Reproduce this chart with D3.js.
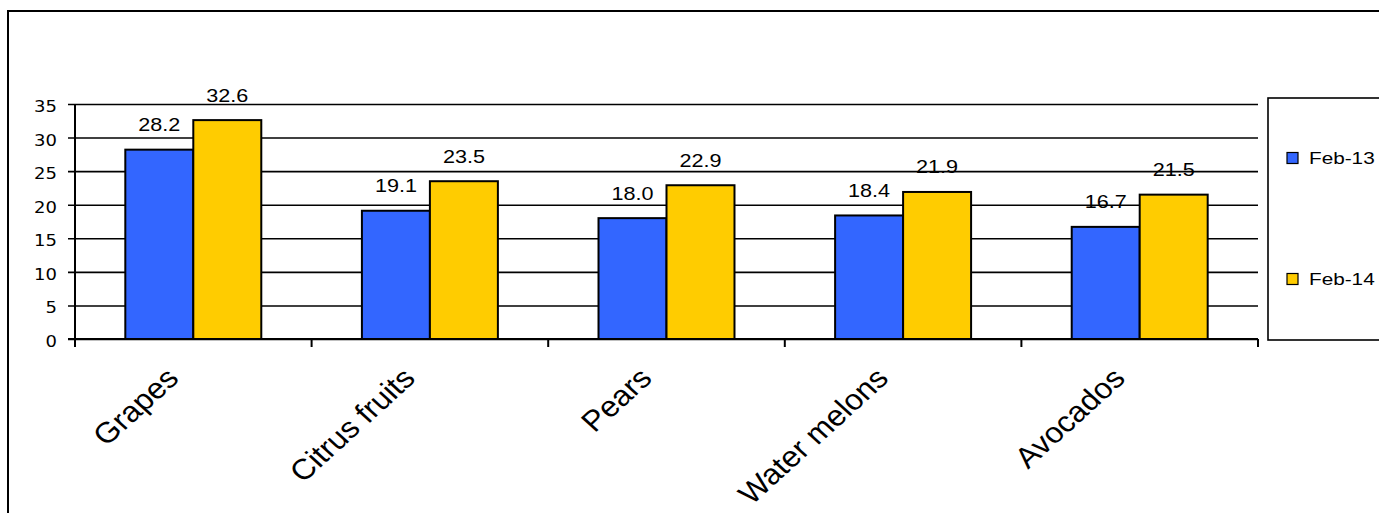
<!DOCTYPE html>
<html>
<head>
<meta charset="utf-8">
<script src="https://cdn.jsdelivr.net/npm/d3@7"></script>
<style>
  html, body { margin: 0; padding: 0; background: #fff; }
  svg { display: block; }
</style>
</head>
<body>
<svg id="chart" width="1379" height="513"></svg>
<script>
// Fruit quantities by month
const categories = ["Grapes", "Citrus fruits", "Pears", "Water melons", "Avocados"];
const seriesNames = ["Feb-13", "Feb-14"];
const feb13 = [28.2, 19.1, 18.0, 18.4, 16.7];
const feb14 = [32.6, 23.5, 22.9, 21.9, 21.5];
const yTicks = [0, 5, 10, 15, 20, 25, 30, 35];
const seriesColors = ["#3366FF", "#FFCC00"];

const seriesValues = [feb13, feb14];
const rows = categories.map((c, i) => ({
  category: c,
  values: seriesNames.map((s, j) => ({ series: s, value: seriesValues[j][i], color: seriesColors[j] }))
}));

const ARIAL = "'Liberation Sans', Arial, sans-serif";
const VERDANA = "'DejaVu Sans', Verdana, sans-serif";

const svg = d3.select("#chart");

// outer chart frame (runs past the right and bottom edges)
svg.append("rect")
  .attr("x", 8).attr("y", 11)
  .attr("width", 1400).attr("height", 520)
  .attr("fill", "#fff").attr("stroke", "#000").attr("stroke-width", 2);

const plot = { left: 75, right: 1258, top: 104, bottom: 339 };

const y = d3.scaleLinear().domain([0, 35]).range([plot.bottom, plot.top]);
const x0 = d3.scaleBand().domain(categories).range([plot.left, plot.right]).padding(0);
const x1 = d3.scaleBand().domain(seriesNames).range([0, x0.bandwidth()])
  .paddingInner(0).paddingOuter(0.74);

// horizontal gridlines with left ticks
const yAxis = d3.axisLeft(y).tickValues(yTicks).tickSize(-(plot.right - plot.left)).tickPadding(0).tickSizeOuter(0);
const gy = svg.append("g").attr("transform", `translate(${plot.left},0)`).call(yAxis);
gy.select(".domain").remove();
gy.selectAll(".tick line")
  .attr("x1", -7)
  .attr("stroke", "#000").attr("stroke-width", 1.6);
gy.selectAll(".tick text")
  .attr("x", null)
  .attr("transform", "translate(-18,0) scale(1.2,1)")
  .attr("font-family", VERDANA)
  .attr("font-size", 15).attr("fill", "#000")
  .attr("dy", "0.5em");

// bars
const groups = svg.append("g").selectAll("g")
  .data(rows).join("g")
  .attr("transform", d => `translate(${x0(d.category)},0)`);

groups.selectAll("rect")
  .data(d => d.values).join("rect")
  .attr("x", d => x1(d.series))
  .attr("y", d => y(d.value))
  .attr("width", x1.bandwidth())
  .attr("height", d => y(0) - y(d.value))
  .attr("fill", d => d.color)
  .attr("stroke", "#000").attr("stroke-width", 2);

// value labels
groups.selectAll("text")
  .data(d => d.values).join("text")
  .attr("transform", d => `translate(${x1(d.series) + x1.bandwidth() / 2},${y(d.value) - 18.5}) scale(1.2,1)`)
  .attr("text-anchor", "middle")
  .attr("font-family", ARIAL)
  .attr("font-size", 18).attr("fill", "#000")
  .text(d => d.value.toFixed(1));

// category axis
const xAxis = d3.axisBottom(x0).tickSize(0).tickFormat("");
const gx = svg.append("g").attr("transform", `translate(0,${plot.bottom})`).call(xAxis);
gx.select(".domain").attr("stroke", "#000").attr("stroke-width", 2)
  .attr("d", `M${plot.left - 7},0H${plot.right}`);
// boundary tick marks between categories
const boundaries = categories.map(c => x0(c)).concat([plot.right]);
gx.selectAll(".bound").data(boundaries).join("line")
  .attr("class", "bound")
  .attr("x1", d => d).attr("x2", d => d)
  .attr("y1", 0).attr("y2", 8)
  .attr("stroke", "#000").attr("stroke-width", 2);
// vertical axis line
svg.append("line")
  .attr("x1", plot.left).attr("x2", plot.left)
  .attr("y1", plot.top).attr("y2", plot.bottom)
  .attr("stroke", "#000").attr("stroke-width", 2);

// rotated category labels
svg.append("g").selectAll("text")
  .data(categories).join("text")
  .attr("transform", d => `translate(${x0(d) + x0.bandwidth() / 2 - 13},380) scale(1.1,1) rotate(-45)`)
  .attr("text-anchor", "end")
  .attr("font-family", ARIAL)
  .attr("font-size", 29).attr("fill", "#000")
  .text(d => d);

// legend
const legend = svg.append("g");
legend.append("rect")
  .attr("x", 1268).attr("y", 98)
  .attr("width", 140).attr("height", 242)
  .attr("fill", "#fff").attr("stroke", "#000").attr("stroke-width", 1.6);
const legendY = d3.scalePoint().domain(seriesNames).range([158, 279]);
const items = legend.selectAll("g.item").data(seriesNames).join("g")
  .attr("class", "item")
  .attr("transform", d => `translate(1287,${legendY(d)})`);
items.append("rect")
  .attr("x", 0).attr("y", -5.5)
  .attr("width", 11).attr("height", 11)
  .attr("fill", (d, i) => seriesColors[i])
  .attr("stroke", "#000").attr("stroke-width", 1.2);
items.append("text")
  .attr("transform", "translate(22,0) scale(1.22,1)")
  .attr("dy", "0.36em")
  .attr("font-family", ARIAL)
  .attr("font-size", 17).attr("fill", "#000")
  .text(d => d);
</script>
</body>
</html>
